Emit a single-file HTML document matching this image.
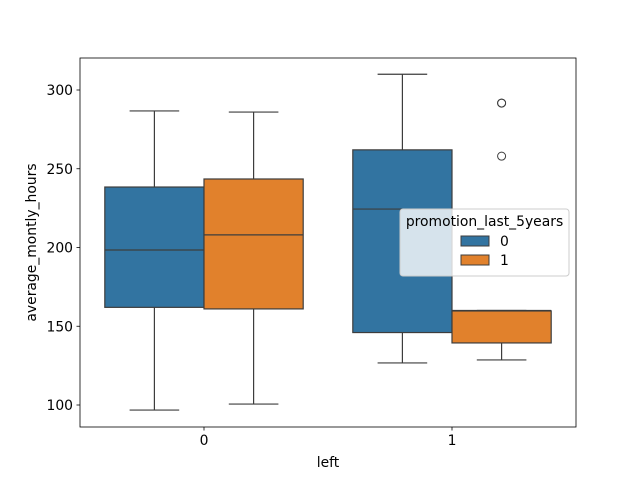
<!DOCTYPE html>
<html><head><meta charset="utf-8"><style>
body{margin:0;background:#fff;}
svg{display:block;font-family:"DejaVu Sans","Liberation Sans",sans-serif;}
</style></head><body>
<svg id="chart" width="640" height="480" xmlns="http://www.w3.org/2000/svg">
<rect x="0" y="0" width="640" height="480" fill="#fff"/>
<g id="plot"></g>
</svg>
<script>
const categories = ["0","1"];
const hues = ["0","1"];
const colors = ["#3274a1","#e1812c"];
// [whiskerLow, q1, median, q3, whiskerHigh] per category per hue
const statsHue0 = [[96.8,162,198.4,238.4,286.7],[126.7,146,224.4,262,310]];
const statsHue1 = [[100.6,161,208,243.5,286],[128.6,139.4,160,159.7,160]];
const outliersHue0 = [[],[]];
const outliersHue1 = [[],[291.7,291.7,258]];
const yTicks = [100,150,200,250,300];

const L=80,R=576,T=58,B=427;
const y = v => 405 - (v-100)*1.575;
const bandW=(R-L)/categories.length;
const x = i => L + bandW*(i+0.5);
const svg=document.getElementById('plot');
const NS="http://www.w3.org/2000/svg";
function mk(tag,attrs,parent){const e=document.createElementNS(NS,tag);for(const k in attrs)e.setAttribute(k,attrs[k]);(parent||svg).appendChild(e);return e;}

const stats=[statsHue0,statsHue1], outs=[outliersHue0,outliersHue1];
const boxW=bandW*0.8/hues.length;
for(let h=0;h<hues.length;h++){
  for(let c=0;c<categories.length;c++){
    const s=stats[h][c];
    const x0=x(c)-bandW*0.4+h*boxW, xc=x0+boxW/2;
    const g=mk('g',{});
    
    
    mk('line',{x1:xc,x2:xc,y1:y(s[0]),y2:y(Math.min(s[1],s[3])),stroke:'#3d3d3d','stroke-width':1.2},g);
    mk('line',{x1:xc,x2:xc,y1:y(Math.max(s[3],s[1])),y2:y(s[4]),stroke:'#3d3d3d','stroke-width':1.2},g);
    mk('line',{x1:xc-boxW/4,x2:xc+boxW/4,y1:y(s[0]),y2:y(s[0]),stroke:'#3d3d3d','stroke-width':1.2},g);
    mk('line',{x1:xc-boxW/4,x2:xc+boxW/4,y1:y(s[4]),y2:y(s[4]),stroke:'#3d3d3d','stroke-width':1.2},g);
    const top=Math.max(s[1],s[3]),bot=Math.min(s[1],s[3]);
    mk('rect',{x:x0,y:y(top),width:boxW,height:y(bot)-y(top),fill:colors[h],stroke:'#3d3d3d','stroke-width':1.2},g);
    mk('line',{x1:x0,x2:x0+boxW,y1:y(s[2]),y2:y(s[2]),stroke:'#3d3d3d','stroke-width':1.2},g);
    for(const o of outs[h][c]){
      const p=mk('circle',{cx:xc,cy:y(o),r:4,fill:'none',stroke:'#3d3d3d','stroke-width':1},g);
      
      
    }
  }
}
const fr=mk('rect',{x:L,y:T,width:R-L,height:B-T,fill:'none',stroke:'#000','stroke-width':0.8});


for(const t of yTicks){
  mk('line',{x1:L-3.5,x2:L,y1:y(t),y2:y(t),stroke:'#000','stroke-width':0.8});
  const tx=mk('text',{x:L-7,y:y(t)+5,'text-anchor':'end','font-size':13.9,fill:'#000'});
  tx.textContent=t;
  
  
}
categories.forEach((c,i)=>{
  mk('line',{x1:x(i),x2:x(i),y1:B,y2:B+3.5,stroke:'#000','stroke-width':0.8});
  const tx=mk('text',{x:x(i),y:B+18,'text-anchor':'middle','font-size':13.9,fill:'#000'});
  tx.textContent=c;
  
  
});
const xt=mk('text',{x:(L+R)/2,y:467,'text-anchor':'middle','font-size':13.9});
xt.textContent='left';


const yt=mk('text',{x:0,y:0,'text-anchor':'middle','font-size':13.9,transform:'translate(36,'+((T+B)/2)+') rotate(-90)'});
yt.textContent='average_montly_hours';


const lg=mk('g',{});


mk('rect',{x:400,y:209,width:169,height:67,rx:3,fill:'#fff','fill-opacity':0.8,stroke:'#ccc','stroke-width':1},lg);
const lt=mk('text',{x:484.5,y:226,'text-anchor':'middle','font-size':13.9},lg);
lt.textContent='promotion_last_5years';
hues.forEach((h,i)=>{
  const e=mk('g',{},lg);
  
  
  mk('rect',{x:461,y:236+i*19,width:28,height:10,fill:colors[i],stroke:'#3d3d3d','stroke-width':1},e);
  const t=mk('text',{x:500,y:246+i*19,'font-size':13.9},e);
  t.textContent=h;
});
</script>
</body></html>
